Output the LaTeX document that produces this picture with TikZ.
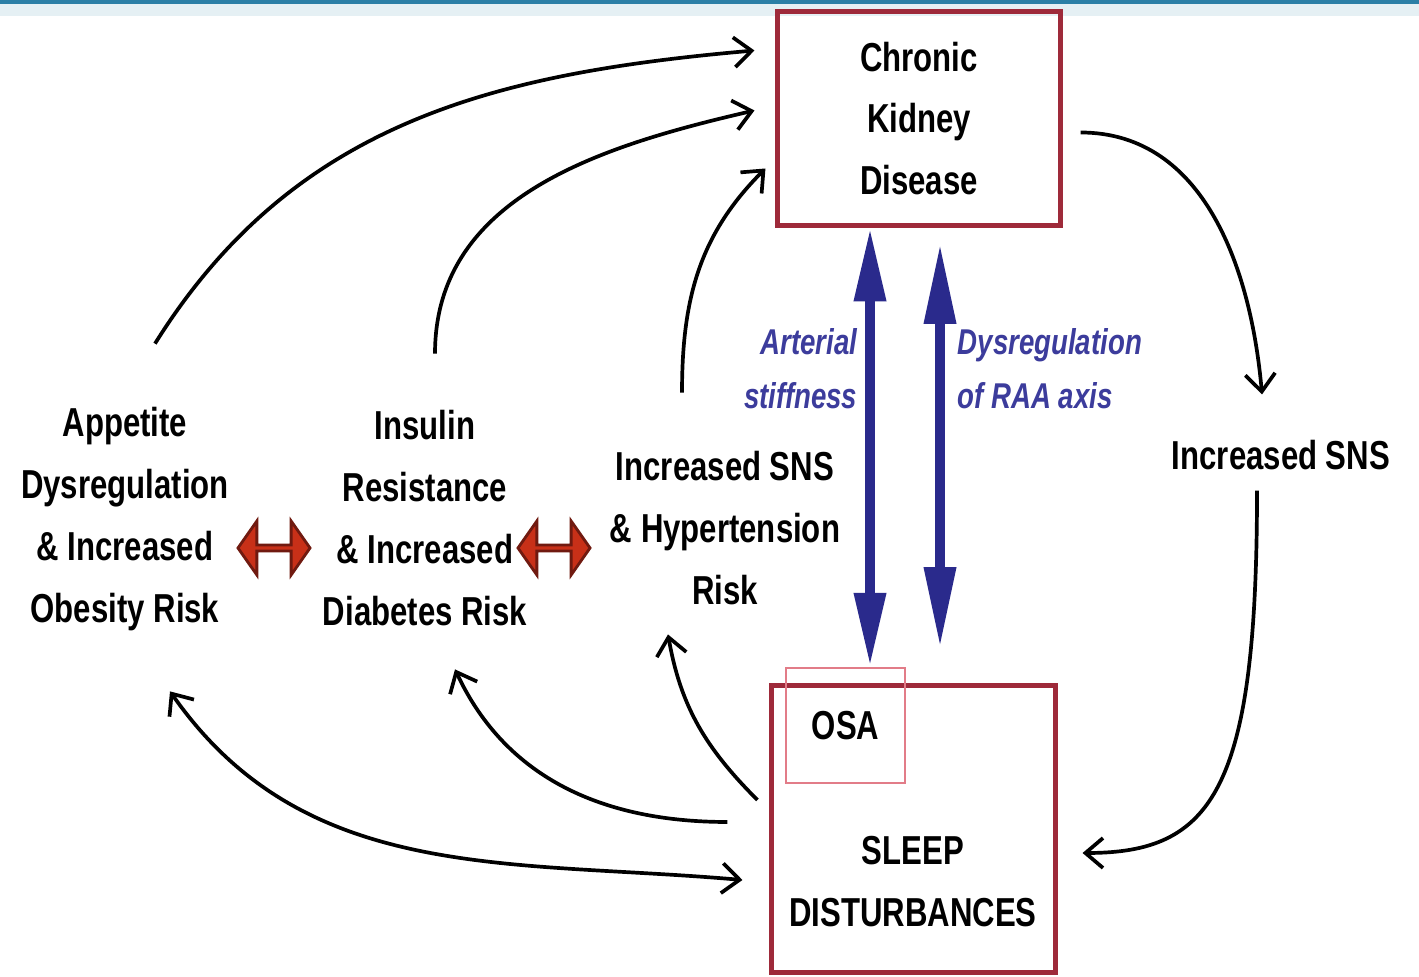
\documentclass[tikz,border=0pt]{standalone}
\usepackage{fontspec}
\newfontfamily\diagfont[FakeStretch=0.77]{Liberation Sans}
\usetikzlibrary{arrows.meta,calc,shapes.arrows}
\definecolor{boxred}{HTML}{9E2A3A}
\definecolor{osared}{HTML}{E27C88}
\definecolor{axisblue}{HTML}{2A2A8C}
\definecolor{labelblue}{HTML}{3C3C9C}
\definecolor{blockred}{HTML}{C83018}
\definecolor{blockedge}{HTML}{701A10}
\definecolor{topteal}{HTML}{2B7FA6}
\tikzset{
  txt/.style={align=center, inner sep=0pt, font=\diagfont\bfseries\fontsize{11.5}{17.6}\selectfont},
  bluetxt/.style={inner sep=0pt, text=labelblue, font=\diagfont\bfseries\itshape\fontsize{10.2}{15.4}\selectfont},
  box/.style={txt, draw=boxred, line width=1.4pt},
  osabox/.style={txt, draw=osared, line width=0.7pt},
  twoway/.style={double arrow, draw=blockedge, fill=blockred, line width=0.8pt, inner sep=0pt,
    minimum height=0.72cm, minimum width=0.54cm, double arrow head extend=0.11cm,
    double arrow tip angle=110},
  axis/.style={draw=axisblue, line width=2.9pt, {Triangle[length=21pt,width=8.5pt]}-{Triangle[length=21pt,width=8.5pt]}},
  longaxis/.style={draw=axisblue, line width=2.9pt, {Triangle[length=23pt,width=8.5pt]}-{Triangle[length=23pt,width=8.5pt]}},
  link/.style={line width=1.05pt, -{Straight Barb[length=5pt,width=8.5pt]}},
  twolink/.style={line width=1.05pt, {Straight Barb[length=5pt,width=8.5pt]}-{Straight Barb[length=5pt,width=8.5pt]}}
}
\begin{document}
\begin{tikzpicture}[x=0.01cm, y=0.01cm]
  % page and top stripe
  \useasboundingbox (0,0) rectangle (1419,-977);
  \fill[white] (0,0) rectangle (1419,-977);
  \fill[topteal!12] (0,-3) rectangle (1419,-16);
  \fill[topteal] (0,0) rectangle (1419,-4);

  % Boxes
  \node[box, minimum width=2.82cm, minimum height=2.13cm] (ckd) at (919,-118.5) {Chronic\\Kidney\\Disease};
  \node[box, minimum width=2.83cm, minimum height=2.86cm] (sleep) at (913.5,-829) {};
  \node[txt] (sleeptxt) at (913,-882) {SLEEP\\DISTURBANCES};
  \node[osabox, minimum width=1.19cm, minimum height=1.15cm] (osa) at (845.5,-725.5) {OSA};

  % Risk labels
  \node[txt] (app) at (125,-519) {Appetite\\Dysregulation\\\& Increased\\Obesity Risk};
  \node[txt] (ins) at (425,-518) {Insulin\\Resistance\\\& Increased\\Diabetes Risk};
  \node[txt] (hyp) at (725,-528) {Increased SNS\\\& Hypertension\\Risk};
  \node[txt] (sns) at (1281,-455) {Increased SNS};

  % Red two-way arrows
  \node[twoway] (appins) at (274,-548) {};
  \node[twoway] (inshyp) at (554,-548) {};

  % Blue axis arrows
  \coordinate (axl) at (870,0);
  \coordinate (raatop) at (940,-243);
  \coordinate (raabot) at (940,-648);
  \draw[axis] (axl |- ckd.south) -- (axl |- osa.north);
  \draw[longaxis] (raatop) -- (raabot);
  \node[bluetxt, align=right, anchor=east] (stiff) at (858,-369) {Arterial\\stiffness};
  \node[bluetxt, align=left, anchor=west] (raa) at (957,-369) {Dysregulation\\of RAA axis};

  % Curved links to CKD
  \draw[link] ([shift={(30,63)}]app.north) to[out=58,in=185] ([shift={(-21,68)}]ckd.west);
  \draw[link] ([shift={(10,56)}]ins.north) to[out=90,in=193] ([shift={(-21,8)}]ckd.west);
  \draw[link] ([shift={(-43,58)}]hyp.north) to[out=90,in=225] ([shift={(-10,-50)}]ckd.west);

  % CKD -> SNS -> sleep
  \draw[link] ([shift={(18,-14)}]ckd.east) to[out=0,in=95] ([shift={(-19,45)}]sns.north);
  \draw[link] ([shift={(-24,-20)}]sns.south) .. controls +(0,-300) and +(130,0) .. ([shift={(25,-24)}]sleep.east);

  % Sleep -> risks
  \draw[link] ([shift={(-12,29)}]sleep.west) to[out=135,in=-80] ([shift={(-57,-29)}]hyp.south);
  \draw[link] ([shift={(-42,7)}]sleep.west) to[out=180,in=-65] ([shift={(30,-43)}]ins.south);
  \draw[twolink] ([shift={(45,-60)}]app.south) to[out=-55,in=175] ([shift={(-27,-51)}]sleep.west);
\end{tikzpicture}
\end{document}
